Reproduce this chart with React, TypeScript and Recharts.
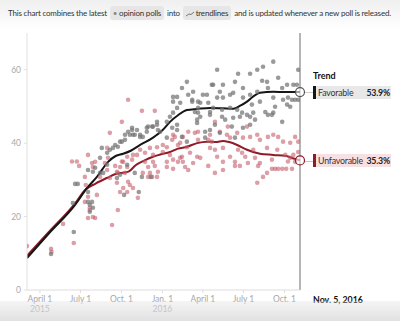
import { ComposedChart, Scatter, Line, XAxis, YAxis, ReferenceLine, ReferenceDot } from 'recharts';

// days counted from April 1, 2015
const X_TICKS = [0, 91, 183, 275, 366, 457, 549];
const X_TICK_LABELS: Record<number, string[]> = {
  0: ['April 1', '2015'],
  91: ['July 1'],
  183: ['Oct. 1'],
  275: ['Jan. 1', '2016'],
  366: ['April 1'],
  457: ['July 1'],
  549: ['Oct. 1'],
};
const Y_TICKS = [0, 20, 40, 60];
const LAST_DAY = 584; // Nov. 5, 2016

const favorableTrend: [number, number][] = [
  [-29, 8.7], [20, 15.4], [79, 23.2], [106, 27.8], [128, 30.8], [153, 34.9], [170, 36.5],
  [187, 37.1], [205, 38.0], [225, 39.5], [254, 41.5], [275, 43.5], [292, 45.8], [310, 47.6],
  [330, 49.0], [353, 49.3], [382, 49.6], [411, 49.5], [434, 49.4], [450, 50.2], [465, 51.3],
  [480, 52.8], [494, 53.7], [524, 54.0], [550, 53.9], [584, 53.9],
];

const unfavorableTrend: [number, number][] = [
  [-29, 9.3], [20, 15.8], [79, 23.6], [101, 27.2], [125, 29.0], [150, 30.5], [170, 31.6],
  [190, 32.0], [200, 32.3], [215, 34.0], [235, 35.3], [254, 36.3], [270, 36.9], [292, 37.6],
  [310, 38.5], [330, 39.0], [353, 40.0], [375, 40.4], [395, 40.3], [411, 40.6], [425, 40.3],
  [443, 39.5], [465, 38.2], [494, 37.1], [524, 36.8], [553, 36.5], [570, 35.8], [584, 35.3],
];

const favorablePolls: [number, number][] = [
  [25, 9.8], [76, 15.8], [74, 23.7], [79, 28.9], [85, 28.9], [108, 32.7], [119, 32.2], [124, 33.3],
  [108, 26.7], [108, 24.0], [112, 23.2], [119, 22.4], [112, 21.3], [117, 24.0], [135, 36.0],
  [139, 38.7], [151, 37.4], [157, 38.2], [164, 38.7], [169, 39.5], [175, 39.0], [184, 40.4],
  [191, 42.3], [198, 43.1], [207, 44.2], [209, 42.3], [218, 43.6], [225, 42.3], [231, 41.7],
  [240, 44.2], [252, 44.5], [263, 45.0], [265, 43.6], [285, 45.8], [292, 47.2], [297, 44.2],
  [299, 48.3], [308, 49.6], [315, 51.0], [319, 55.0], [330, 56.7], [333, 53.2], [342, 51.3],
  [344, 54.0], [348, 48.5], [353, 46.4], [355, 51.3], [142, 31.9], [151, 34.1], [173, 30.5],
  [180, 31.4], [196, 34.1], [213, 31.9], [229, 30.8], [249, 30.8], [189, 25.9], [222, 26.7],
  [135, 31.9], [386, 55.9], [299, 52.6], [308, 52.6], [299, 51.3], [342, 51.8], [360, 51.0],
  [366, 53.2], [375, 53.2], [378, 51.0], [382, 48.5], [355, 49.6], [355, 48.3], [360, 47.2],
  [353, 45.5], [308, 45.0], [308, 43.6], [319, 41.7], [330, 40.4], [285, 41.5], [270, 43.1],
  [263, 45.8], [254, 44.5], [243, 44.5], [240, 43.1], [225, 41.7], [213, 42.3], [207, 43.6],
  [202, 42.3], [191, 40.9], [180, 40.4], [371, 43.1], [371, 41.5], [382, 43.6], [398, 60.0],
  [445, 58.9], [472, 58.9], [488, 60.0], [501, 60.8], [524, 62.2], [580, 60.0], [389, 55.9],
  [411, 55.9], [438, 56.7], [456, 55.0], [499, 57.0], [510, 56.7], [512, 55.0], [535, 57.8],
  [555, 55.9], [569, 55.9], [577, 55.9], [404, 54.0], [427, 53.2], [472, 53.2], [544, 55.0],
  [488, 54.0], [398, 52.4], [411, 52.4], [434, 53.7], [456, 52.4], [494, 51.3], [524, 52.4],
  [546, 51.8], [557, 52.4], [566, 51.8], [573, 51.8], [580, 51.8], [389, 49.6], [409, 49.1],
  [427, 49.6], [443, 49.1], [454, 48.3], [476, 50.5], [479, 48.3], [506, 48.5], [528, 49.9],
  [555, 50.5], [562, 49.9], [524, 48.3], [409, 47.2], [434, 46.9], [449, 47.2], [465, 47.7],
  [472, 47.2], [416, 46.4], [483, 46.4], [512, 47.7], [521, 47.7], [544, 45.8], [382, 47.7],
  [393, 45.0], [431, 44.5], [456, 44.2], [472, 45.0], [404, 42.8], [438, 41.5],
];

const unfavorablePolls: [number, number][] = [
  [-29, 12.0], [25, 11.2], [26, 10.4], [52, 18.0], [76, 12.8], [72, 35.0], [83, 35.0], [88, 33.8],
  [101, 30.8], [108, 36.8], [119, 33.5], [151, 38.7], [157, 42.8], [184, 45.8], [198, 51.8],
  [229, 48.8], [258, 48.8], [173, 32.2], [180, 33.5], [187, 34.9], [196, 36.3], [207, 35.5],
  [218, 36.8], [225, 38.2], [236, 37.4], [247, 38.7], [263, 38.9], [276, 37.6], [285, 38.9],
  [297, 40.9], [303, 41.7], [315, 40.1], [321, 41.7], [330, 38.9], [337, 37.4], [348, 42.8],
  [355, 40.9], [265, 32.2], [285, 33.5], [299, 35.5], [319, 36.3], [326, 33.5], [344, 34.6],
  [353, 36.3], [231, 31.9], [243, 33.5], [135, 30.8], [151, 32.7], [299, 42.3], [333, 43.1],
  [355, 43.1], [276, 39.5], [310, 39.5], [378, 40.9], [382, 38.7], [209, 36.8], [254, 36.8],
  [292, 36.8], [360, 36.0], [236, 34.9], [254, 34.9], [285, 34.9], [315, 36.0], [184, 35.0],
  [196, 33.5], [191, 31.9], [198, 29.5], [202, 28.6], [187, 27.8], [209, 27.8], [196, 26.7],
  [220, 25.1], [247, 31.9], [252, 30.8], [243, 30.8], [263, 30.8], [258, 33.8], [299, 33.0],
  [310, 34.9], [321, 34.9], [333, 32.7], [378, 33.8], [117, 34.6], [124, 34.9], [146, 34.6],
  [153, 36.0], [169, 33.8], [175, 31.9], [157, 30.5], [173, 29.2], [180, 26.7], [108, 25.4],
  [101, 24.0], [112, 22.4], [128, 25.9], [108, 19.6], [119, 19.9], [124, 19.6], [162, 17.7],
  [175, 21.8], [112, 21.8], [103, 28.6], [393, 45.8], [404, 43.1], [422, 44.5], [443, 42.8],
  [465, 44.5], [488, 42.3], [512, 41.7], [524, 42.3], [535, 41.7], [546, 40.4], [562, 40.1],
  [573, 41.7], [580, 40.4], [382, 42.3], [386, 40.4], [420, 42.3], [427, 41.5], [456, 41.5],
  [472, 41.7], [494, 40.9], [393, 38.2], [411, 38.7], [445, 38.2], [454, 37.4], [479, 38.2],
  [510, 38.7], [533, 38.2], [551, 36.8], [569, 36.8], [580, 37.6], [398, 36.3], [427, 36.3],
  [461, 36.3], [483, 36.0], [521, 35.5], [562, 36.0], [411, 34.9], [438, 34.9], [467, 34.6],
  [494, 34.6], [573, 34.9], [393, 31.9], [411, 32.7], [438, 33.8], [449, 33.8], [490, 33.8],
  [488, 29.2], [501, 30.8], [510, 31.9], [521, 33.0], [528, 33.0], [535, 33.0], [544, 33.0],
  [553, 33.0], [566, 33.0], [557, 35.0],
];

const toPoints = (rows: [number, number][]) => rows.map(([d, v]) => ({ d, v }));

const FONT = 'Lato, "Noto Sans", sans-serif';
const BLACK = '#161616';
const RED = '#8e1b25';

const XTick = ({ x, y, payload }: any) => {
  const lines = X_TICK_LABELS[payload.value] || [];
  return (
    <g>
      {lines.map((t, i) => (
        <text key={i} x={x} y={y + 7 + i * 10} textAnchor="middle" fontSize={8.5} fill="#a5a5a5" fontFamily={FONT}>
          {t}
        </text>
      ))}
    </g>
  );
};

const dot = (fill: string, opacity: number) => (p: any) => (
  <circle cx={p.cx} cy={p.cy} r={2.3} fill={fill} fillOpacity={opacity} />
);

const pill: React.CSSProperties = {
  background: '#e6e6e6',
  borderRadius: 3,
  padding: '2px 3px',
  margin: '0 1px',
};

const legendBox = (bg: string, bar: string): React.CSSProperties => ({
  position: 'absolute',
  left: 313,
  width: 78,
  height: 13,
  background: bg,
  borderLeft: `3px solid ${bar}`,
  boxSizing: 'border-box',
  display: 'flex',
  justifyContent: 'space-between',
  alignItems: 'center',
  gap: 2,
  padding: '0 1px 0 2px',
  fontSize: 8.8,
  letterSpacing: -0.2,
  color: '#333',
  whiteSpace: 'nowrap',
});

export default function App() {
  return (
    <div
      style={{
        position: 'absolute',
        left: 0,
        top: 0,
        width: 400,
        height: 321,
        overflow: 'hidden',
        background: 'linear-gradient(to bottom, #efefef 0px, #fbfbfb 22px, #ffffff 30px)',
        fontFamily: FONT,
      }}
    >
      <div
        style={{
          position: 'absolute',
          left: 8,
          top: 8,
          fontSize: 8,
          color: '#333',
          whiteSpace: 'nowrap',
          letterSpacing: -0.2,
        }}
      >
        This chart combines the latest{' '}
        <span style={pill}>
          <span style={{ color: '#888' }}>•</span> opinion polls
        </span>{' '}
        into{' '}
        <span style={pill}>
          <svg width={8} height={6} style={{ verticalAlign: 'middle' }}>
            <path d="M0 5 L3 3 L5 3.5 L8 1" stroke="#777" fill="none" strokeWidth={1} />
          </svg>{' '}
          trendlines
        </span>{' '}
        and is updated whenever a new poll is released.
      </div>

      <div style={{ position: 'absolute', left: 0, top: 0 }}>
        <ComposedChart width={400} height={321} margin={{ top: 33, right: 100, bottom: 0, left: 0 }}>
          <XAxis
            type="number"
            dataKey="d"
            domain={[-29, LAST_DAY]}
            ticks={X_TICKS}
            tick={<XTick />}
            tickSize={3}
            tickMargin={2}
            height={31}
            stroke="#dcdcdc"
            allowDataOverflow
          />
          <YAxis
            type="number"
            dataKey="v"
            domain={[0, 70]}
            ticks={Y_TICKS}
            width={27}
            tickSize={3}
            tickMargin={3}
            stroke="#e0e0e0"
            tick={{ fontSize: 8.5, fill: '#aaa', fontFamily: FONT }}
          />
          <Scatter data={toPoints(unfavorablePolls)} shape={dot('#c65f6d', 0.6)} isAnimationActive={false} />
          <Scatter data={toPoints(favorablePolls)} shape={dot('#737373', 0.72)} isAnimationActive={false} />
          <ReferenceLine x={LAST_DAY} stroke="#9c9c9c" strokeWidth={1.5} />
          <Line
            data={toPoints(unfavorableTrend)}
            dataKey="v"
            type="monotone"
            stroke={RED}
            strokeWidth={2}
            dot={false}
            isAnimationActive={false}
          />
          <Line
            data={toPoints(favorableTrend)}
            dataKey="v"
            type="monotone"
            stroke={BLACK}
            strokeWidth={2}
            dot={false}
            isAnimationActive={false}
          />
          <ReferenceDot x={LAST_DAY} y={53.9} r={4.5} fill="#fff" fillOpacity={0.6} stroke="#555" strokeWidth={1.2} />
          <ReferenceDot x={LAST_DAY} y={35.3} r={4.5} fill="#fff" fillOpacity={0.6} stroke={RED} strokeWidth={1.2} />
        </ComposedChart>
      </div>

      <div style={{ position: 'absolute', left: 313, top: 70, fontSize: 9, fontWeight: 700, color: '#111' }}>Trend</div>

      <div style={{ position: 'absolute', left: 305, top: 92, width: 8, height: 1, background: '#ccc' }} />
      <div style={{ ...legendBox('#e8e8e8', BLACK), top: 86 }}>
        <span>Favorable</span>
        <span style={{ fontWeight: 700, color: '#222' }}>53.9%</span>
      </div>

      <div style={{ position: 'absolute', left: 305, top: 161, width: 8, height: 1, background: '#e3b8bd' }} />
      <div style={{ ...legendBox('#f7e0e3', RED), top: 154 }}>
        <span>Unfavorable</span>
        <span style={{ fontWeight: 700, color: '#222' }}>35.3%</span>
      </div>

      <div style={{ position: 'absolute', left: 313, top: 294, fontSize: 8.8, fontWeight: 700, color: '#111' }}>
        Nov. 5, 2016
      </div>

      <div
        style={{
          position: 'absolute',
          left: 0,
          top: 301,
          width: 400,
          height: 20,
          background: 'linear-gradient(to bottom, rgba(225,225,225,0.35), rgba(220,220,220,0.85))',
        }}
      />
    </div>
  );
}
